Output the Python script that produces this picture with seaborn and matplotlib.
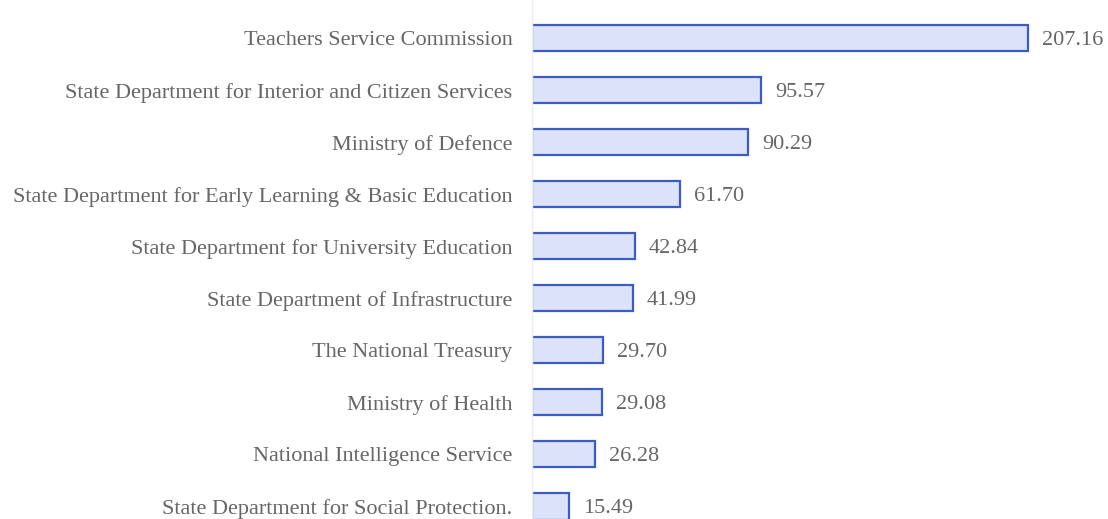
import pandas as pd
import matplotlib.pyplot as plt
import seaborn as sns

# Data
ministries = [
    'Teachers Service Commission',
    'State Department for Interior and Citizen Services',
    'Ministry of Defence',
    'State Department for Early Learning & Basic Education',
    'State Department for University Education',
    'State Department of Infrastructure',
    'The National Treasury',
    'Ministry of Health',
    'National Intelligence Service',
    'State Department for Social Protection.',
]
amounts = [207.16, 95.57, 90.29, 61.70, 42.84, 41.99, 29.70, 29.08, 26.28, 15.49]
value_labels = ['207.16', '95.57', '90.29', '61.70', '42.84', '41.99',
                '29.70', '29.08', '26.28', '15.49']

df = pd.DataFrame({'ministry': ministries, 'amount': amounts})

sns.set_style('white')
plt.rcParams['font.family'] = ['Liberation Serif', 'DejaVu Serif']

fig = plt.figure(figsize=(11.08, 5.19), dpi=100)
ax = fig.add_axes([532 / 1108, 0, 576 / 1108, 1])

sns.barplot(data=df, x='amount', y='ministry', orient='h', ax=ax,
            color='#dbe2fa', edgecolor='#3a5cc4', linewidth=1.6,
            width=0.5, saturation=1)

ax.set_xlim(0, 240.6)
ax.set_ylim(9.24, -0.732)

for i, (v, lab) in enumerate(zip(amounts, value_labels)):
    ax.text(v + 6, i + 0.04, lab, va='center', ha='left',
            fontsize=16, color='#666666')

ax.set_xlabel('')
ax.set_ylabel('')
ax.set_xticks([])
ax.tick_params(axis='y', length=0, pad=14, labelsize=16, labelcolor='#666666')
for side in ['top', 'right', 'bottom']:
    ax.spines[side].set_visible(False)
ax.spines['left'].set_color('#eeeeee')
ax.spines['left'].set_linewidth(1)

fig.savefig('out.png', dpi=100, facecolor='white')
